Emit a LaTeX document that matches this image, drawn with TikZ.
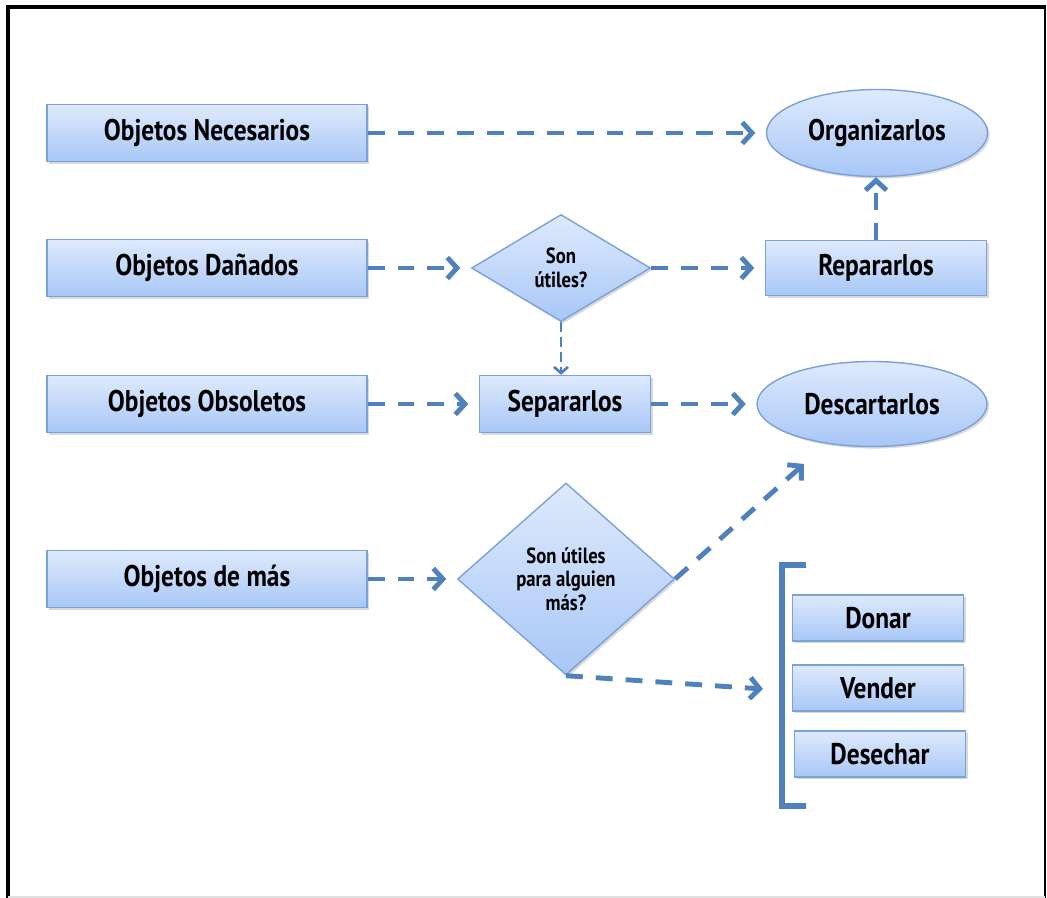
\documentclass[tikz,border=0pt]{standalone}
\usepackage{fontspec}
\setmainfont{PT Sans}[FakeStretch=0.85]
\usepackage{tikz}
\usetikzlibrary{arrows.meta}
\usetikzlibrary{shapes.geometric}
\usetikzlibrary{shadows}

\definecolor{azul}{HTML}{4F81BD}
\definecolor{borde}{HTML}{7BA2D8}
\definecolor{claro}{HTML}{DEEAFC}
\definecolor{oscuro}{HTML}{A8C7F7}

\tikzset{
  relleno/.style={draw=borde, line width=0.8pt, top color=claro, bottom color=oscuro,
    drop shadow={shadow xshift=1.2pt, shadow yshift=-1.2pt, opacity=0.3}, inner sep=0pt},
  caja/.style={relleno, rectangle, font=\bfseries\fontsize{17}{19}\selectfont},
  cajagrande/.style={caja, minimum width=6.4cm, minimum height=1.14cm},
  cajita/.style={caja, minimum width=3.42cm, minimum height=0.92cm},
  elipse/.style={relleno, ellipse, font=\bfseries\fontsize{17}{19}\selectfont},
  rombo/.style={relleno, diamond, align=center, font=\bfseries\fontsize{12.5}{13.5}\selectfont},
  flecha/.style={draw=azul, line width=2.8pt, dash pattern=on 9.6pt off 7.4pt,
    -{Straight Barb[length=5.5pt,width=12pt]}, shorten >=6pt},
  flechita/.style={draw=azul, line width=1.5pt, dash pattern=on 5.5pt off 3pt,
    -{Straight Barb[length=3.5pt,width=8pt]}}
}

\begin{document}
\begin{tikzpicture}[x=0.02cm, y=-0.02cm]

    \useasboundingbox (0,0) rectangle (1047,898);

    % Frame
    \draw[line width=2.3pt] (8,898) -- (8,7) -- (1046,7);
    \draw[line width=0.8pt] (1045,7) -- (1045,898);
    \draw[black!12, line width=0.6pt] (8,897) -- (1045,897);

    % Left column
    \node[cajagrande] (necesarios) at (207,133) {Objetos Necesarios};
    \node[cajagrande] (danados) at (207,268) {Objetos Dañados};
    \node[cajagrande] (obsoletos) at (207,404) {Objetos Obsoletos};
    \node[cajagrande] (demas) at (207,579) {Objetos de más};

    % Middle column
    \node[rombo, minimum width=3.58cm, minimum height=2.14cm] (util) at (561,268) {Son\\útiles?};
    \node[caja, minimum width=3.42cm, minimum height=1.14cm] (separar) at (565,404) {Separarlos};
    \node[rombo, minimum width=4.34cm, minimum height=3.84cm] (alguien) at (566,579) {Son útiles\\para alguien\\más?};

    % Right column
    \node[elipse, minimum width=4.42cm, minimum height=1.74cm] (organizar) at (877,133) {Organizarlos};
    \node[caja, minimum width=4.42cm, minimum height=1.1cm] (reparar) at (876,268) {Repararlos};
    \node[elipse, minimum width=4.6cm, minimum height=1.7cm] (descartar) at (872,404) {Descartarlos};
    \node[cajita] (donar) at (878,618) {Donar};
    \node[cajita] (vender) at (878,688) {Vender};
    \node[cajita] (desechar) at (880,754) {Desechar};

    % Bracket
    \draw[azul, line width=3.4pt] (806,565) -- (782,565) -- (782,806) -- (806,806);

    % Arrows
    \coordinate (destino) at (804,464);
    \coordinate (corchete) at (763,689);
    \draw[flecha] (necesarios.east) -- (organizar.west);
    \draw[flecha] (danados.east) -- (util.west);
    \draw[flecha] (util.east) -- (reparar.west);
    \draw[flecha, shorten >=0pt] (reparar.north) -- (reparar.north |- organizar.south);
    \draw[flechita] (util.south) -- (util.south |- separar.north);
    \draw[flecha] (obsoletos.east) -- (separar.west);
    \draw[flecha] (separar.east) -- (descartar.west);
    \draw[flecha] (demas.east) -- (alguien.west);
    \draw[flecha, shorten >=0pt] (alguien.east) -- (destino);
    \draw[flecha, shorten >=0pt] (alguien.south) -- (corchete);

\end{tikzpicture}
\end{document}
